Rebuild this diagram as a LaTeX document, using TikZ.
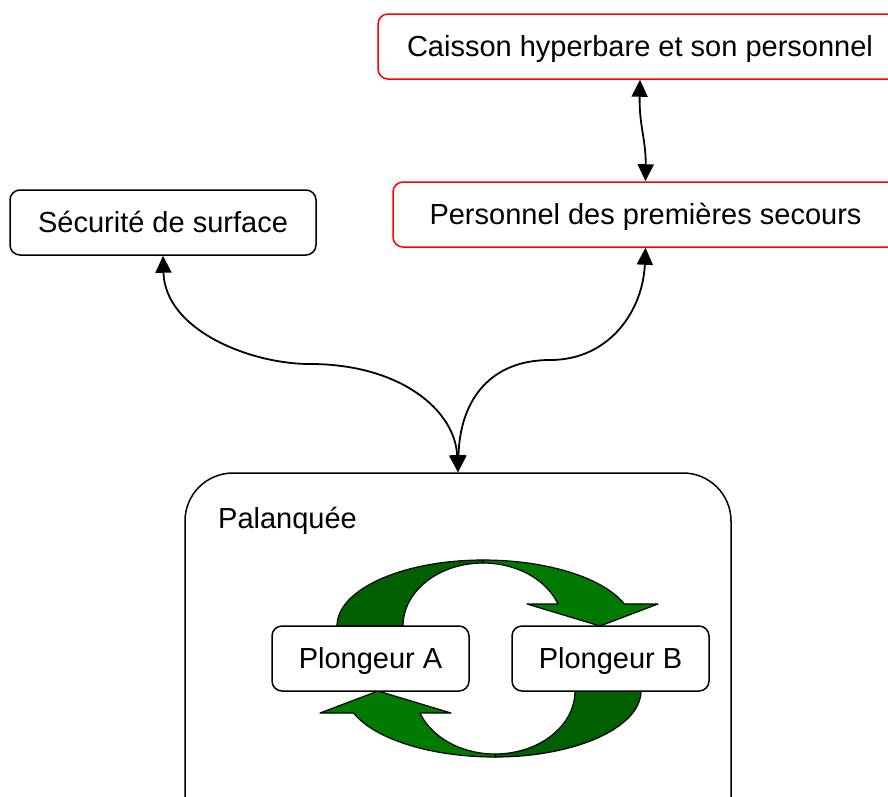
\documentclass[tikz,border=0pt]{standalone}
\usepackage{fontspec}
\setmainfont{Liberation Sans}
\usetikzlibrary{arrows.meta,calc}
\definecolor{gdark}{RGB}{0,95,0}
\definecolor{glight}{RGB}{0,122,0}
\definecolor{bred}{RGB}{255,0,0}
\begin{document}
\begin{tikzpicture}[x=1pt,y=-1pt,
  box/.style={draw=black, rounded corners=10pt, line width=1.5pt, fill=white,
    minimum height=65pt, inner sep=0pt, text height=26pt, text depth=6pt,
    font=\fontsize{29}{35}\selectfont},
  redbox/.style={box, draw=bred},
  bigbox/.style={draw=black, rounded corners=48pt, line width=1.5pt, fill=white, inner sep=0pt},
  lbl/.style={inner sep=0pt, font=\fontsize{29}{35}\selectfont},
  link/.style={line width=1.8pt, {Triangle[length=17pt,width=16pt]}-{Triangle[length=17pt,width=16pt]}},
  band/.style={draw=black, line width=1.2pt, line join=round}]
\useasboundingbox (0,0) rectangle (888,796);
\clip (0,0) rectangle (888,796);
\fill[white] (0,0) rectangle (888,796);

% boxes
\node[redbox, minimum width=524pt] (cai) at (640,46.5) {Caisson hyperbare et son personnel};
\node[redbox, minimum width=505pt] (pers) at (645.5,214.5) {Personnel des premières secours};
\node[box, minimum width=306pt] (sec) at (163,222.5) {Sécurité de surface};
\node[bigbox, minimum width=546pt, minimum height=387pt] (pal) at (458,666.5) {};
\node[lbl, anchor=base west] (plab) at (218,528) {Palanquée};

% green circular arrows
\filldraw[band, fill=gdark]
  plot[domain=180:90, samples=40] ({483+146*cos(\x)},{626-66*sin(\x)})
  -- plot[domain=90:180, samples=40] ({483+80*cos(\x)},{626-63*sin(\x)}) -- cycle;
\filldraw[band, fill=glight]
  plot[domain=90:19.5, samples=40] ({483+150*cos(\x)},{626-66*sin(\x)})
  -- (658,604) -- (600,626) -- (527,604)
  -- plot[domain=20.4:90, samples=40] ({483+80*cos(\x)},{626-63*sin(\x)}) -- cycle;
\begin{scope}[rotate around={180:(489,658.5)}]
\filldraw[band, fill=gdark]
  plot[domain=180:90, samples=40] ({483+146*cos(\x)},{626-66*sin(\x)})
  -- plot[domain=90:180, samples=40] ({483+80*cos(\x)},{626-63*sin(\x)}) -- cycle;
\filldraw[band, fill=glight]
  plot[domain=90:19.5, samples=40] ({483+150*cos(\x)},{626-66*sin(\x)})
  -- (658,604) -- (600,626) -- (527,604)
  -- plot[domain=20.4:90, samples=40] ({483+80*cos(\x)},{626-63*sin(\x)}) -- cycle;
\end{scope}

\node[box, minimum width=197pt] (pa) at (370.5,658.5) {Plongeur A};
\node[box, minimum width=197pt] (pb) at (610.5,658.5) {Plongeur B};

% connectors
\draw[link] (cai.south) .. controls (639,125) and (646,140) .. (pers.north);
\draw[link] (sec.south) .. controls (165,330) and (250,364) .. (310,364)
  .. controls (400,364) and (455,410) .. (pal.north);
\draw[link] (pers.south) .. controls (643,310) and (610,360) .. (550,360)
  .. controls (490,360) and (460,400) .. (pal.north);
\end{tikzpicture}
\end{document}
